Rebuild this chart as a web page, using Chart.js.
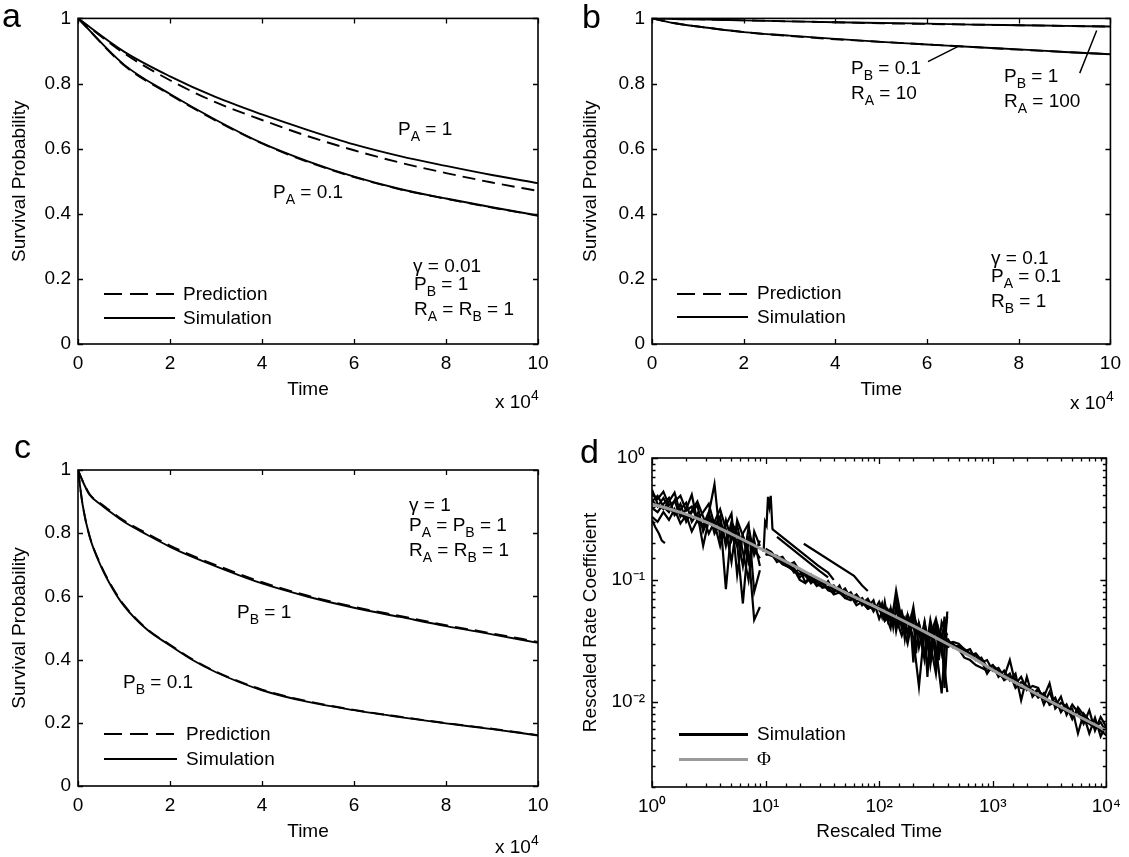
<!DOCTYPE html>
<html>
<head>
<meta charset="utf-8">
<script src="https://cdn.jsdelivr.net/npm/chart.js@4.4.1/dist/chart.umd.min.js"></script>
<style>
  body { margin: 0; background: #fff; width: 1129px; height: 857px; position: relative; overflow: hidden;
         font-family: "Liberation Sans", Arial, sans-serif; color: #000; }
  canvas { position: absolute; }
  .t { position: absolute; font-size: 19px; line-height: 20px; white-space: nowrap; }
  .t sub { font-size: 14px; vertical-align: -6px; line-height: 0; }
  .t sup { font-size: 14px; vertical-align: 8px; line-height: 0; }
  .lbl { position: absolute; font-size: 34px; line-height: 34px; }
  .ln { position: absolute; height: 1.6px; background: #000; }
  .dash { height: 2px; background: repeating-linear-gradient(to right, #000 0 18px, transparent 18px 26px); }
  .phi { font-family: "Liberation Serif", "DejaVu Serif", serif; }
</style>
</head>
<body>
<canvas id="chartA" width="560" height="420" style="left:0;top:0"></canvas>
<canvas id="chartB" width="569" height="420" style="left:560px;top:0"></canvas>
<canvas id="chartC" width="560" height="437" style="left:0;top:420px"></canvas>
<canvas id="chartD" width="569" height="437" style="left:560px;top:420px"></canvas>

<!-- panel letters -->
<div class="lbl" style="left:2px;top:-2px">a</div>
<div class="lbl" style="left:582px;top:-1px">b</div>
<div class="lbl" style="left:14px;top:429px">c</div>
<div class="lbl" style="left:580px;top:434px">d</div>

<!-- panel a notes -->
<div class="t" style="left:398px;top:119px">P<sub>A</sub> = 1</div>
<div class="t" style="left:273px;top:182px">P<sub>A</sub> = 0.1</div>
<div class="t" style="left:413px;top:256px">γ = 0.01</div>
<div class="t" style="left:414px;top:274px">P<sub>B</sub> = 1</div>
<div class="t" style="left:414px;top:299px">R<sub>A</sub> = R<sub>B</sub> = 1</div>
<div class="ln dash" style="left:104px;top:293px;width:71px"></div>
<div class="t" style="left:183px;top:284px">Prediction</div>
<div class="ln" style="left:104px;top:317px;width:71px"></div>
<div class="t" style="left:183px;top:308px">Simulation</div>
<div class="t" style="left:495px;top:392px">x 10<sup>4</sup></div>

<!-- panel b notes -->
<div class="t" style="left:851px;top:58px">P<sub>B</sub> = 0.1</div>
<div class="t" style="left:851px;top:83px">R<sub>A</sub> = 10</div>
<div class="t" style="left:1004px;top:66px">P<sub>B</sub> = 1</div>
<div class="t" style="left:1004px;top:91px">R<sub>A</sub> = 100</div>
<div class="t" style="left:991px;top:248px">γ = 0.1</div>
<div class="t" style="left:991px;top:266px">P<sub>A</sub> = 0.1</div>
<div class="t" style="left:991px;top:291px">R<sub>B</sub> = 1</div>
<div class="ln dash" style="left:677px;top:293px;width:71px"></div>
<div class="t" style="left:757px;top:283px">Prediction</div>
<div class="ln" style="left:677px;top:316px;width:71px"></div>
<div class="t" style="left:757px;top:307px">Simulation</div>
<div class="t" style="left:1070px;top:393px">x 10<sup>4</sup></div>

<!-- panel c notes -->
<div class="t" style="left:409px;top:495px">γ = 1</div>
<div class="t" style="left:409px;top:515px">P<sub>A</sub> = P<sub>B</sub> = 1</div>
<div class="t" style="left:409px;top:540px">R<sub>A</sub> = R<sub>B</sub> = 1</div>
<div class="t" style="left:237px;top:602px">P<sub>B</sub> = 1</div>
<div class="t" style="left:123px;top:672px">P<sub>B</sub> = 0.1</div>
<div class="ln dash" style="left:104px;top:733px;width:73px"></div>
<div class="t" style="left:186px;top:724px">Prediction</div>
<div class="ln" style="left:104px;top:758px;width:73px"></div>
<div class="t" style="left:186px;top:749px">Simulation</div>
<div class="t" style="left:495px;top:837px">x 10<sup>4</sup></div>

<!-- panel d legend -->
<div class="ln" style="left:679px;top:733px;width:69px;height:2.6px"></div>
<div class="t" style="left:757px;top:724px">Simulation</div>
<div class="ln" style="left:679px;top:758px;width:69px;height:2.6px;background:#9b9b9b"></div>
<div class="t phi" style="left:757px;top:749px">Φ</div>

<script>
// ---- panel a: gamma = 0.01 ----
const timeA = [0, 1e4, 2e4, 3e4, 4e4, 5e4, 6e4, 7e4, 8e4, 9e4, 1e5];
const simA_PA1 = [1, 0.898, 0.822, 0.758, 0.705, 0.657, 0.613, 0.577, 0.547, 0.519, 0.494];
const predA_PA1 = [1, 0.893, 0.81, 0.742, 0.688, 0.638, 0.595, 0.557, 0.525, 0.496, 0.47];
const simA_PA01 = [1, 0.858, 0.768, 0.688, 0.617, 0.561, 0.514, 0.476, 0.447, 0.42, 0.395];
const predA_PA01 = [1, 0.856, 0.766, 0.686, 0.616, 0.559, 0.513, 0.475, 0.446, 0.419, 0.394];

// ---- panel b: gamma = 0.1 ----
const timeB = [0, 0.5e4, 1e4, 2e4, 3e4, 4e4, 5e4, 6e4, 7e4, 8e4, 9e4, 1e5];
const simB_PB1 = [1, 0.998, 0.997, 0.994, 0.991, 0.988, 0.986, 0.984, 0.981, 0.979, 0.977, 0.975];
const predB_PB1 = [1, 0.998, 0.997, 0.994, 0.991, 0.988, 0.985, 0.983, 0.981, 0.979, 0.977, 0.975];
const simB_PB01 = [1, 0.985, 0.975, 0.958, 0.947, 0.937, 0.928, 0.92, 0.912, 0.905, 0.897, 0.89];
const predB_PB01 = [1, 0.985, 0.975, 0.958, 0.946, 0.936, 0.928, 0.92, 0.912, 0.904, 0.897, 0.89];
const leader1X = [6.02e4, 6.69e4], leader1Y = [0.867, 0.915];
const leader2X = [9.33e4, 9.70e4], leader2Y = [0.832, 0.963];

// ---- panel c: gamma = 1 ----
const timeC = [0, 0.1e4, 0.25e4, 0.5e4, 0.75e4, 1e4, 1.5e4, 2e4, 2.5e4, 3e4, 4e4, 5e4, 6e4, 7e4, 8e4, 9e4, 1e5];
const simC_PB1 = [1, 0.965, 0.922, 0.89, 0.862, 0.836, 0.795, 0.757, 0.724, 0.695, 0.641, 0.599, 0.564, 0.535, 0.506, 0.48, 0.453];
const predC_PB1 = [1, 0.966, 0.924, 0.893, 0.866, 0.84, 0.799, 0.761, 0.728, 0.699, 0.645, 0.602, 0.567, 0.538, 0.509, 0.483, 0.456];
const simC_PB01 = [1, 0.89, 0.79, 0.695, 0.625, 0.57, 0.495, 0.445, 0.398, 0.36, 0.303, 0.266, 0.24, 0.218, 0.198, 0.18, 0.16];
const predC_PB01 = [1, 0.891, 0.792, 0.698, 0.628, 0.573, 0.497, 0.447, 0.4, 0.362, 0.305, 0.268, 0.241, 0.219, 0.199, 0.181, 0.161];

// ---- panel d: rescaled rate coefficient (log-log) ----
const phiX = [1, 2, 3, 5, 10, 20, 30, 50, 100, 200, 400, 700, 1000, 2000, 5000, 10000];
const phiY = [0.42, 0.345, 0.298, 0.238, 0.172, 0.123, 0.101, 0.079, 0.058, 0.042, 0.0298, 0.0224, 0.0182, 0.0128, 0.0081, 0.0058];

const earlyX = [1, 1.12, 1.26, 1.41, 1.58, 1.78, 2, 2.24, 2.51, 2.82, 3.16, 3.55, 3.98, 4.47, 5.01, 5.62, 6.31, 7.08, 7.94, 8.91];
const early1 = [0.50, 0.46, 0.53, 0.41, 0.44, 0.49, 0.37, 0.40, 0.31, 0.36, 0.42, 0.28, 0.33, 0.19, 0.30, 0.24, 0.13, 0.27, 0.16, 0.21];
const early2 = [0.44, 0.49, 0.40, 0.36, 0.45, 0.33, 0.38, 0.50, 0.30, 0.27, 0.35, 0.61, 0.22, 0.28, 0.35, 0.11, 0.24, 0.29, 0.08, 0.12];
const early3 = [0.39, 0.36, 0.42, 0.47, 0.34, 0.38, 0.43, 0.30, 0.35, 0.19, 0.31, 0.26, 0.33, 0.084, 0.27, 0.20, 0.064, 0.22, 0.18, 0.15];
const early4 = [0.55, 0.42, 0.38, 0.44, 0.52, 0.35, 0.31, 0.37, 0.44, 0.33, 0.24, 0.30, 0.38, 0.26, 0.14, 0.31, 0.23, 0.17, 0.047, 0.06];
const early5 = [0.33, 0.30, 0.36, 0.31, 0.38, 0.29, 0.34, 0.25, 0.31, 0.28, 0.36, 0.24, 0.29, 0.21, 0.25, 0.19, 0.23, 0.14, 0.21, 0.13];
const early6 = [0.45, 0.40, 0.47, 0.39, 0.35, 0.42, 0.30, 0.36, 0.41, 0.25, 0.33, 0.29, 0.19, 0.31, 0.21, 0.28, 0.17, 0.10, 0.25, 0.19];
const shortX = [1, 1.07, 1.15, 1.22, 1.3];
const shortY = [0.31, 0.27, 0.24, 0.21, 0.20];
const spikeX = [9.6, 9.9, 10.2, 10.5, 10.8, 11.1, 11.5];
const spikeY = [0.17, 0.30, 0.28, 0.48, 0.40, 0.49, 0.26];

const midX = [10, 11.2, 12.6, 14.1, 15.8, 17.8, 20, 22.4, 25.1, 28.2, 31.6, 35.5, 39.8, 44.7, 50.1, 56.2, 63.1, 70.8, 79.4, 89.1, 100, 112, 126, 141, 158, 178, 200, 224, 251, 282, 316, 355, 398];
const mid1 = [0.18, 0.17, 0.15, 0.155, 0.13, 0.125, 0.105, 0.115, 0.10, 0.103, 0.092, 0.094, 0.085, 0.080, 0.083, 0.072, 0.075, 0.062, 0.068, 0.055, 0.066, 0.05, 0.058, 0.043, 0.055, 0.036, 0.06, 0.028, 0.045, 0.02, 0.042, 0.025, 0.05];
const mid2 = [0.16, 0.165, 0.14, 0.148, 0.138, 0.115, 0.122, 0.095, 0.11, 0.092, 0.088, 0.098, 0.080, 0.084, 0.074, 0.079, 0.066, 0.071, 0.06, 0.068, 0.048, 0.062, 0.045, 0.07, 0.04, 0.05, 0.033, 0.0133, 0.04, 0.03, 0.017, 0.045, 0.035];
const mid3 = [0.175, 0.16, 0.158, 0.14, 0.132, 0.14, 0.118, 0.112, 0.094, 0.104, 0.096, 0.085, 0.09, 0.078, 0.085, 0.07, 0.073, 0.064, 0.07, 0.058, 0.06, 0.054, 0.04, 0.082, 0.046, 0.03, 0.052, 0.038, 0.022, 0.047, 0.028, 0.0117, 0.055];
const mid4 = [0.165, 0.158, 0.152, 0.135, 0.128, 0.122, 0.10, 0.094, 0.104, 0.089, 0.095, 0.082, 0.079, 0.09, 0.071, 0.068, 0.076, 0.066, 0.058, 0.063, 0.058, 0.046, 0.052, 0.048, 0.035, 0.052, 0.04, 0.044, 0.026, 0.035, 0.048, 0.03, 0.012];
const lowX = [12.6, 14.1, 15.8, 17.8, 20, 22.4, 25.1, 28.2, 31.6, 35.5, 39.8, 44.7, 50.1, 56.2, 63.1, 70.8, 79.4, 89.1];
const lowY = [0.15, 0.135, 0.128, 0.118, 0.112, 0.108, 0.096, 0.098, 0.086, 0.088, 0.076, 0.079, 0.071, 0.074, 0.062, 0.066, 0.058, 0.06];
const denseX = [100, 106, 112, 119, 126, 133, 141, 150, 158, 168, 178, 188, 200, 211, 224, 237, 251, 266, 282, 299, 316, 335, 355, 376, 398];
const dense1 = [0.062, 0.05, 0.066, 0.047, 0.058, 0.041, 0.06, 0.044, 0.052, 0.033, 0.05, 0.038, 0.048, 0.025, 0.044, 0.036, 0.041, 0.016, 0.039, 0.03, 0.046, 0.022, 0.037, 0.013, 0.033];
const dense2 = [0.055, 0.064, 0.048, 0.057, 0.05, 0.056, 0.038, 0.051, 0.045, 0.049, 0.036, 0.046, 0.021, 0.043, 0.038, 0.03, 0.045, 0.034, 0.024, 0.041, 0.019, 0.038, 0.029, 0.05, 0.028];
const run1X = [11.4, 29, 35.5, 39.8], run1Y = [0.262, 0.131, 0.115, 0.10];
const run2X = [12.6, 30, 35.5], run2Y = [0.225, 0.118, 0.105];
const run3X = [21.7, 60, 70.8, 79.4], run3Y = [0.198, 0.108, 0.09, 0.081];

const lateX = [400, 447, 501, 562, 631, 708, 794, 891, 1000, 1122, 1259, 1413, 1585, 1778, 1995, 2239, 2512, 2818, 3162, 3548, 3981, 4467, 5012, 5623, 6310, 7079, 7943, 8913, 10000];
const late1 = [0.030, 0.031, 0.030, 0.027, 0.025, 0.024, 0.021, 0.022, 0.018, 0.019, 0.016, 0.022, 0.014, 0.016, 0.0125, 0.0135, 0.013, 0.0095, 0.012, 0.0092, 0.011, 0.0078, 0.0095, 0.0082, 0.0066, 0.0085, 0.0058, 0.0075, 0.0062];
const late2 = [0.032, 0.029, 0.028, 0.026, 0.027, 0.022, 0.023, 0.019, 0.020, 0.016, 0.018, 0.015, 0.017, 0.0103, 0.016, 0.011, 0.0125, 0.011, 0.0142, 0.0088, 0.0098, 0.0092, 0.0072, 0.009, 0.0078, 0.0055, 0.0074, 0.0052, 0.0065];
const late3 = [0.028, 0.030, 0.027, 0.023, 0.022, 0.020, 0.019, 0.018, 0.0185, 0.017, 0.0155, 0.017, 0.013, 0.0145, 0.0135, 0.0115, 0.0128, 0.0105, 0.0098, 0.0108, 0.0082, 0.0095, 0.0074, 0.0086, 0.0071, 0.0066, 0.0061, 0.0068, 0.0056];
const late4 = [0.033, 0.028, 0.029, 0.027, 0.024, 0.025, 0.022, 0.017, 0.020, 0.018, 0.015, 0.016, 0.0155, 0.013, 0.0128, 0.0125, 0.0108, 0.0118, 0.0094, 0.0100, 0.0089, 0.0083, 0.0088, 0.0055, 0.0080, 0.0070, 0.0069, 0.0058, 0.0053];

Chart.defaults.font.family = '"Liberation Sans", Arial, sans-serif';
Chart.defaults.font.size = 19;
Chart.defaults.color = '#000';

const pts = (xs, ys) => xs.map((x, i) => ({ x, y: ys[i] }));
const isDecade = v => Math.abs(Math.log10(v) - Math.round(Math.log10(v))) < 1e-6;
const supMap = { '-': '⁻', '0': '⁰', '1': '¹', '2': '²', '3': '³', '4': '⁴' };
const powLabel = v => '10' + String(Math.round(Math.log10(v))).split('').map(c => supMap[c]).join('');

// box round the plot with inward ticks on every side, matlab style
const matlabBox = {
  id: 'matlabBox',
  afterDatasetsDraw(chart) {
    const { ctx, chartArea: ca, scales: { x, y } } = chart;
    const len = (s, v) => s.type === 'logarithmic' ? (isDecade(v) ? 6 : 3.5) : 5;
    ctx.save();
    ctx.strokeStyle = '#000';
    ctx.lineWidth = 1.3;
    ctx.beginPath();
    x.ticks.forEach(t => {
      const px = Math.round(x.getPixelForValue(t.value)) + 0.5, l = len(x, t.value);
      ctx.moveTo(px, ca.bottom); ctx.lineTo(px, ca.bottom - l);
      ctx.moveTo(px, ca.top); ctx.lineTo(px, ca.top + l);
    });
    y.ticks.forEach(t => {
      const py = Math.round(y.getPixelForValue(t.value)) + 0.5, l = len(y, t.value);
      ctx.moveTo(ca.left, py); ctx.lineTo(ca.left + l, py);
      ctx.moveTo(ca.right, py); ctx.lineTo(ca.right - l, py);
    });
    ctx.stroke();
    ctx.lineWidth = 1.6;
    ctx.strokeRect(ca.left, ca.top, ca.right - ca.left, ca.bottom - ca.top);
    ctx.restore();
  }
};

const solid = (data, extra) => Object.assign({ data, borderColor: '#000', borderWidth: 1.9, cubicInterpolationMode: 'monotone' }, extra);
const dashed = data => solid(data, { borderDash: [13, 7] });

function survivalChart(id, datasets, pad, yWidth, xHeight, xTitlePad, yTitlePad) {
  return new Chart(document.getElementById(id), {
    type: 'line',
    data: { datasets },
    options: {
      responsive: false, animation: false, events: [],
      layout: { padding: pad },
      elements: { point: { radius: 0 } },
      plugins: { legend: { display: false }, tooltip: { enabled: false } },
      scales: {
        x: {
          type: 'linear', min: 0, max: 100000,
          grid: { display: false, drawTicks: false }, border: { display: false },
          ticks: { stepSize: 20000, padding: 8, maxRotation: 0, callback: v => v / 10000 },
          title: { display: true, text: 'Time', padding: { top: 0, bottom: xTitlePad } },
          afterFit: s => { s.height = xHeight; }
        },
        y: {
          min: 0, max: 1,
          grid: { display: false, drawTicks: false }, border: { display: false },
          ticks: { stepSize: 0.2, padding: 7, callback: v => String(Number(v.toFixed(2))) },
          title: { display: true, text: 'Survival Probability', padding: { top: yTitlePad, bottom: 0 } },
          afterFit: s => { s.width = yWidth; }
        }
      }
    },
    plugins: [matlabBox]
  });
}

survivalChart('chartA', [
  solid(pts(timeA, simA_PA1)),
  dashed(pts(timeA, predA_PA1)),
  solid(pts(timeA, simA_PA01)),
  dashed(pts(timeA, predA_PA01))
], { left: 0, top: 15, right: 22, bottom: 0 }, 78, 76, 19, 8);

survivalChart('chartB', [
  solid(pts(timeB, simB_PB1)),
  dashed(pts(timeB, predB_PB1)),
  solid(pts(timeB, simB_PB01)),
  dashed(pts(timeB, predB_PB01)),
  solid(pts(leader1X, leader1Y), { borderWidth: 1.5 }),
  solid(pts(leader2X, leader2Y), { borderWidth: 1.5 })
], { left: 0, top: 15, right: 16, bottom: 0 }, 92, 76, 19, 19);

survivalChart('chartC', [
  solid(pts(timeC, simC_PB1)),
  dashed(pts(timeC, predC_PB1)),
  solid(pts(timeC, simC_PB01)),
  dashed(pts(timeC, predC_PB01))
], { left: 0, top: 50, right: 22, bottom: 0 }, 78, 71, 14, 8);

const simLine = (xs, ys) => ({ data: pts(xs, ys), borderColor: '#000', borderWidth: 2.2, tension: 0 });

new Chart(document.getElementById('chartD'), {
  type: 'line',
  data: {
    datasets: [
      { data: pts(phiX, phiY), borderColor: '#9b9b9b', borderWidth: 3, cubicInterpolationMode: 'monotone' },
      simLine(earlyX, early1), simLine(earlyX, early2), simLine(earlyX, early3),
      simLine(earlyX, early4), simLine(earlyX, early5), simLine(earlyX, early6),
      simLine(shortX, shortY), simLine(spikeX, spikeY),
      simLine(midX, mid1), simLine(midX, mid2), simLine(midX, mid3), simLine(midX, mid4),
      simLine(lowX, lowY), simLine(denseX, dense1), simLine(denseX, dense2),
      simLine(run1X, run1Y), simLine(run2X, run2Y), simLine(run3X, run3Y),
      simLine(lateX, late1), simLine(lateX, late2), simLine(lateX, late3), simLine(lateX, late4)
    ]
  },
  options: {
    responsive: false, animation: false, events: [],
    layout: { padding: { left: 0, top: 38, right: 16, bottom: 0 } },
    elements: { point: { radius: 0 } },
    plugins: { legend: { display: false }, tooltip: { enabled: false } },
    scales: {
      x: {
        type: 'logarithmic', min: 1, max: 10000,
        grid: { display: false, drawTicks: false }, border: { display: false },
        ticks: { autoSkip: false, maxRotation: 0, padding: 8, callback: v => isDecade(v) ? powLabel(v) : '' },
        title: { display: true, text: 'Rescaled Time', padding: { top: 0, bottom: 14 } },
        afterFit: s => { s.height = 70; }
      },
      y: {
        type: 'logarithmic', min: 0.002, max: 1,
        grid: { display: false, drawTicks: false }, border: { display: false },
        ticks: { autoSkip: false, padding: 7, callback: v => isDecade(v) ? powLabel(v) : '' },
        title: { display: true, text: 'Rescaled Rate Coefficient', padding: { top: 19, bottom: 0 } },
        afterFit: s => { s.width = 92; }
      }
    }
  },
  plugins: [matlabBox]
});
</script>
</body>
</html>
